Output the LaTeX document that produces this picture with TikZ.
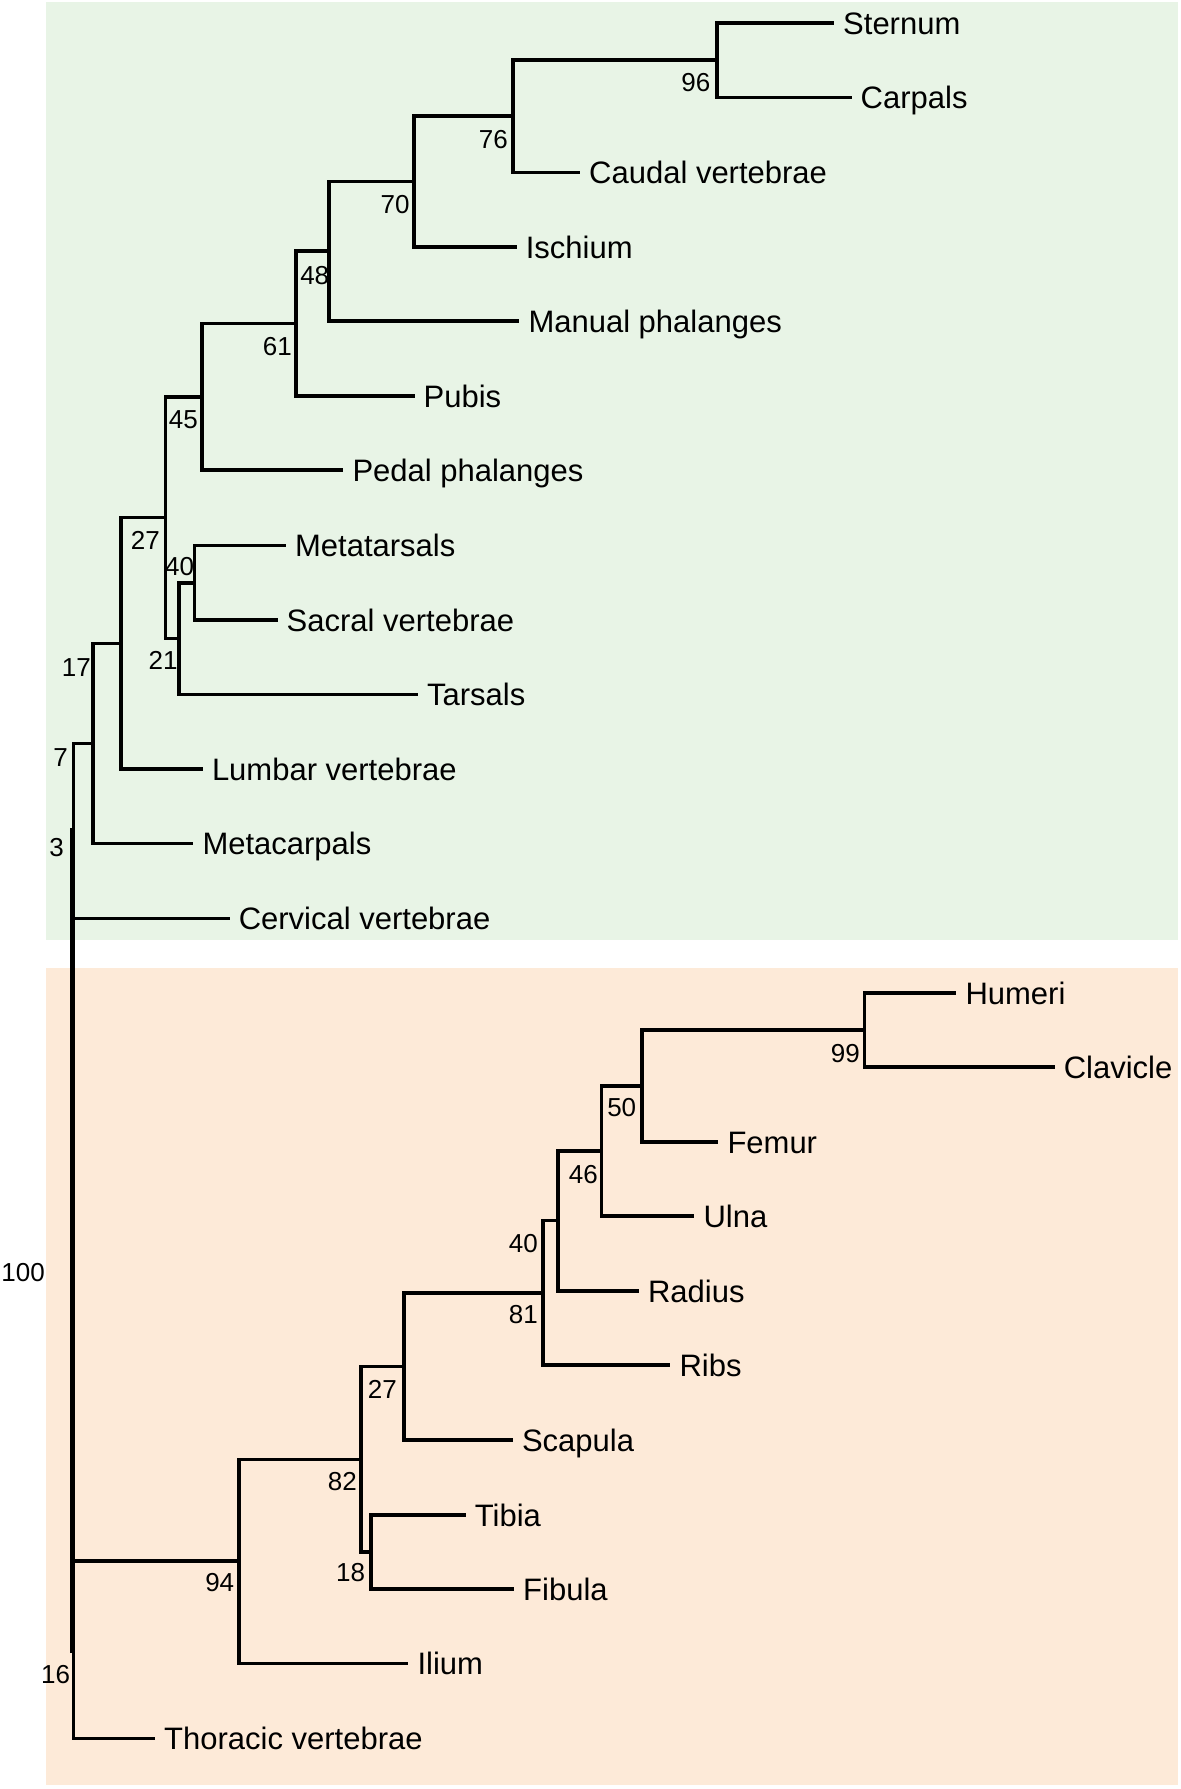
\documentclass[tikz,border=0pt]{standalone}
\usepackage{fontspec}
\setmainfont{Liberation Sans}
\definecolor{greenbg}{RGB}{232,244,230}
\definecolor{peachbg}{RGB}{253,234,216}
\tikzset{
  br/.style={line width=3.6pt, line join=miter},
  rootbr/.style={line width=5.5pt, line join=miter},
  leaflab/.style={inner sep=0pt, anchor=base west, font=\fontsize{31}{31}\selectfont},
  bsval/.style={inner sep=0pt, anchor=base east, font=\fontsize{26}{26}\selectfont}
}
\newcommand\leaf[4]{\coordinate (#1) at (#2,#3); \node[leaflab] (#1-t) at ({#2+9},{#3+11.3}) {#4};}
\newcommand\bsl[4]{\node[bsval] (#1) at ({#2+1},{#3+9.3}) {#4};}
\begin{document}
\begin{tikzpicture}[x=1pt,y=-1pt]
\useasboundingbox (0,0) rectangle (1181,1789);
\fill[greenbg] (46,1.7) rectangle (1178,940);
\fill[peachbg] (46,967.7) rectangle (1178,1785);

% leaves
\leaf{sternum}{834}{22.7}{Sternum}
\leaf{carpals}{851.5}{97.3}{Carpals}
\leaf{caudal}{580}{172.3}{Caudal vertebrae}
\leaf{ischium}{516.6}{246.7}{Ischium}
\leaf{manual}{519.3}{321}{Manual phalanges}
\leaf{pubis}{414.5}{396}{Pubis}
\leaf{pedal}{343.3}{470}{Pedal phalanges}
\leaf{metatarsals}{285.9}{545.3}{Metatarsals}
\leaf{sacral}{277.5}{620}{Sacral vertebrae}
\leaf{tarsals}{417.9}{694.3}{Tarsals}
\leaf{lumbar}{202.8}{769}{Lumbar vertebrae}
\leaf{metacarpals}{193.3}{843.3}{Metacarpals}
\leaf{cervical}{229.6}{918.3}{Cervical vertebrae}
\leaf{humeri}{956.3}{992.7}{Humeri}
\leaf{clavicle}{1054.6}{1066.7}{Clavicle}
\leaf{femur}{718.3}{1141.7}{Femur}
\leaf{ulna}{694.3}{1216}{Ulna}
\leaf{radius}{638.9}{1290.7}{Radius}
\leaf{ribs}{670.3}{1365}{Ribs}
\leaf{scapula}{512.8}{1440}{Scapula}
\leaf{tibia}{465.7}{1515}{Tibia}
\leaf{fibula}{514}{1589}{Fibula}
\leaf{ilium}{408.3}{1663.3}{Ilium}
\leaf{thoracic}{155}{1738.3}{Thoracic vertebrae}

% internal nodes
\coordinate (n96) at (717,60);
\coordinate (n76) at (512.8,116.2);
\coordinate (n70) at (414.1,181.4);
\coordinate (n48) at (329.1,251.2);
\coordinate (n61) at (295.8,323.6);
\coordinate (n45) at (202.1,396.8);
\coordinate (n40) at (194.4,582.7);
\coordinate (n21) at (179.1,638.5);
\coordinate (n27) at (165.3,517.6);
\coordinate (n17) at (120.9,643.3);
\coordinate (nmc) at (92.7,743.3);
\coordinate (n7) at (73.3,830.8);
\coordinate (n99) at (864.6,1029.7);
\coordinate (n50) at (641.9,1085.7);
\coordinate (n46) at (601.3,1150.8);
\coordinate (n40b) at (558.1,1220.6);
\coordinate (n81) at (542.8,1293);
\coordinate (n27b) at (403.7,1366.4);
\coordinate (n18) at (371.2,1552);
\coordinate (n82) at (360.9,1459.3);
\coordinate (n94) at (239.2,1560.8);
\coordinate (n16) at (73.3,1650);
\coordinate (root) at (72.5,1240);

% branches
\draw[br] (n96) |- (sternum);
\draw[br] (n96) |- (carpals);
\draw[br] (n76) |- (n96);
\draw[br] (n76) |- (caudal);
\draw[br] (n70) |- (n76);
\draw[br] (n70) |- (ischium);
\draw[br] (n48) |- (n70);
\draw[br] (n48) |- (manual);
\draw[br] (n61) |- (n48);
\draw[br] (n61) |- (pubis);
\draw[br] (n45) |- (n61);
\draw[br] (n45) |- (pedal);
\draw[br] (n27) |- (n45);
\draw[br] (n27) |- (n21);
\draw[br] (n21) |- (n40);
\draw[br] (n21) |- (tarsals);
\draw[br] (n40) |- (metatarsals);
\draw[br] (n40) |- (sacral);
\draw[br] (n17) |- (n27);
\draw[br] (n17) |- (lumbar);
\draw[br] (nmc) |- (n17);
\draw[br] (nmc) |- (metacarpals);
\draw[br] (n7) |- (nmc);
\draw[br] (n7) |- (cervical);
\draw[rootbr] (root) |- (n7);
\draw[rootbr] (root) |- (n16);
\draw[br] (n16) |- (n94);
\draw[br] (n16) |- (thoracic);
\draw[br] (n94) |- (n82);
\draw[br] (n94) |- (ilium);
\draw[br] (n82) |- (n27b);
\draw[br] (n82) |- (n18);
\draw[br] (n18) |- (tibia);
\draw[br] (n18) |- (fibula);
\draw[br] (n27b) |- (n81);
\draw[br] (n27b) |- (scapula);
\draw[br] (n81) |- (n40b);
\draw[br] (n81) |- (ribs);
\draw[br] (n40b) |- (n46);
\draw[br] (n40b) |- (radius);
\draw[br] (n46) |- (n50);
\draw[br] (n46) |- (ulna);
\draw[br] (n50) |- (n99);
\draw[br] (n50) |- (femur);
\draw[br] (n99) |- (humeri);
\draw[br] (n99) |- (clavicle);

% bootstrap values
\bsl{b96}{709.6}{82.3}{96}
\bsl{b76}{507}{139}{76}
\bsl{b70}{408.7}{204}{70}
\bsl{b48}{328.4}{275}{48}
\bsl{b61}{291}{346}{61}
\bsl{b45}{197}{419}{45}
\bsl{b27}{159}{540}{27}
\bsl{b40}{193.3}{566}{40}
\bsl{b21}{176.8}{660}{21}
\bsl{b17}{90}{666.7}{17}
\bsl{b7}{67}{757}{7}
\bsl{b3}{63}{846.7}{3}
\bsl{b100}{44}{1271.7}{100}
\bsl{b16}{69.3}{1674}{16}
\bsl{b99}{859}{1052.7}{99}
\bsl{b50}{635.4}{1107.3}{50}
\bsl{b46}{597}{1174}{46}
\bsl{b40b}{537}{1242.7}{40}
\bsl{b81}{537}{1314.3}{81}
\bsl{b27b}{396}{1389}{27}
\bsl{b82}{356}{1481}{82}
\bsl{b18}{364.3}{1572.3}{18}
\bsl{b94}{233.4}{1581.7}{94}
\end{tikzpicture}
\end{document}
